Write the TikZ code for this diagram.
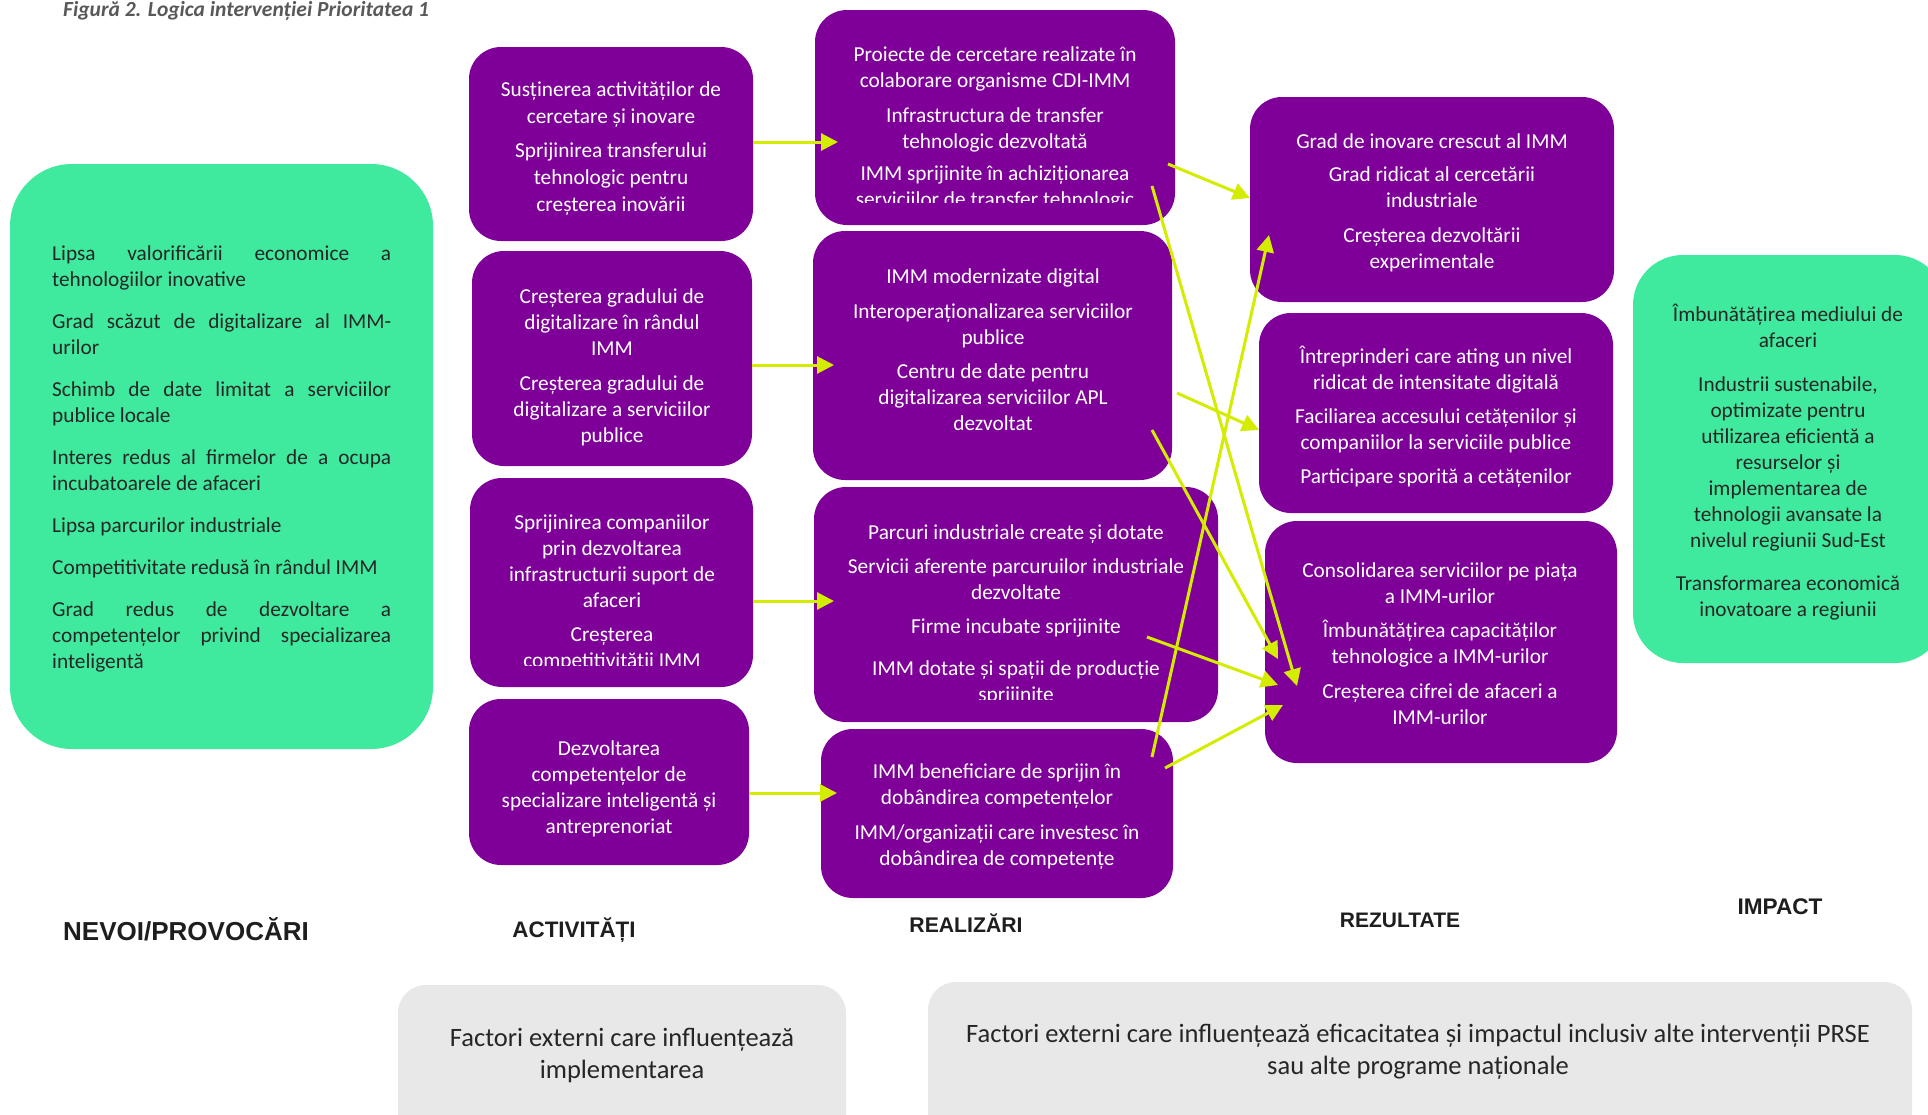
\documentclass[tikz,border=0pt]{standalone}
\usepackage{fontspec}
\setmainfont{Carlito}
\newfontfamily\headfont{Liberation Sans}
\usetikzlibrary{arrows.meta}
\definecolor{purp}{HTML}{7F0099}
\definecolor{grn}{HTML}{3FEA9E}
\definecolor{arrc}{HTML}{D4EC00}
\definecolor{lgrey}{HTML}{E8E8E8}
\definecolor{dtext}{HTML}{262626}
\definecolor{htext}{HTML}{1E1E1E}
\definecolor{ttl}{HTML}{595959}
\newcommand\bodyfs{\fontsize{21.3}{26}\selectfont}
\newcommand\extfs{\fontsize{26.5}{32.5}\selectfont}
\newcommand\fl{\rule{0pt}{20pt}}
\newcommand\jl[1]{\makebox[339pt][s]{#1}}
\begin{document}
\begin{tikzpicture}[x=1pt,y=-1pt,
 pbox/.style={fill=purp, rounded corners=32pt, inner sep=0pt, outer sep=0pt, anchor=north west},
 gbox/.style={fill=grn, inner sep=0pt, outer sep=0pt, anchor=north west},
 xbox/.style={fill=lgrey, rounded corners=28pt, inner sep=0pt, outer sep=0pt, anchor=north west},
 ptxt/.style={text=white, font=\bodyfs, align=center, inner sep=0pt, anchor=north},
 gtxt/.style={text=dtext, font=\bodyfs, align=center, inner sep=0pt, anchor=north},
 etxt/.style={text=dtext, font=\extfs, align=center, inner sep=0pt, anchor=north},
 head/.style={text=htext, inner sep=0pt, anchor=base},
 arr/.style={draw=arrc, line width=3pt, -{Triangle[length=17pt,width=17pt]}}]
\useasboundingbox (0,0) rectangle (1928,1114);
\clip (0,0) rectangle (1928,1114);
\fill[white] (0,0) rectangle (1928,1114);

% title
\node[anchor=base west, text=ttl, inner sep=0pt, font=\fontsize{21.5}{26}\selectfont\bfseries\itshape] (T) at (63,16) {Figură 2. Logica intervenției Prioritatea 1};

% boxes
\node[gbox, rounded corners=62pt, minimum width=423pt, minimum height=585pt] (N) at (10,164) {};
\node[pbox, minimum width=284pt, minimum height=194pt] (A1) at (469,47) {};
\node[pbox, minimum width=280pt, minimum height=215pt] (A2) at (472,251) {};
\node[pbox, minimum width=283pt, minimum height=209pt] (A3) at (470,478) {};
\node[pbox, minimum width=280pt, minimum height=166pt] (A4) at (469,699) {};
\node[pbox, minimum width=360pt, minimum height=215pt] (R1) at (815,10) {};
\node[pbox, minimum width=359pt, minimum height=249pt] (R2) at (813,231) {};
\node[pbox, minimum width=404pt, minimum height=235pt] (R3) at (814,487) {};
\node[pbox, minimum width=352pt, minimum height=169pt] (R4) at (821,729) {};
\node[pbox, minimum width=364pt, minimum height=205pt] (Z1) at (1250,97) {};
\node[pbox, minimum width=354pt, minimum height=200pt] (Z2) at (1259,313) {};
\node[pbox, minimum width=352pt, minimum height=242pt] (Z3) at (1265,521) {};
\node[gbox, rounded corners=50pt, minimum width=312pt, minimum height=408pt] (I) at (1633,255) {};
\node[xbox, minimum width=448pt, minimum height=160pt] (E1) at (398,985) {};
\node[xbox, minimum width=984pt, minimum height=160pt] (E2) at (928,982) {};

% needs text
\node[gtxt, align=left, anchor=north west] (Nt) at (52,240) {\fl\jl{Lipsa valorificării economice a}\\tehnologiilor inovative\\[16pt]\jl{Grad scăzut de digitalizare al IMM-}\\urilor\\[16pt]\jl{Schimb de date limitat a serviciilor}\\publice locale\\[16pt]\jl{Interes redus al firmelor de a ocupa}\\incubatoarele de afaceri\\[16pt]Lipsa parcurilor industriale\\[16pt]Competitivitate redusă în rândul IMM\\[16pt]\jl{Grad redus de dezvoltare a}\\\jl{competențelor privind specializarea}\\inteligentă};

% activities
\node[ptxt] (A1t) at (611,76) {\fl Susținerea activităților de\\[1pt]cercetare și inovare\\[8pt]Sprijinirea transferului\\[1pt]tehnologic pentru\\[1pt]creșterea inovării};
\node[ptxt] (A2t) at (612,283) {\fl Creșterea gradului de\\digitalizare în rândul\\IMM\\[9pt]Creșterea gradului de\\digitalizare a serviciilor\\publice};
\begin{scope}
\clip (470,478) rectangle (753,665);
\node[ptxt] (A3t) at (612,509) {\fl Sprijinirea companiilor\\prin dezvoltarea\\infrastructurii suport de\\afaceri\\[8pt]Creșterea\\competitivității IMM};
\end{scope}
\node[ptxt] (A4t) at (609,735) {\fl Dezvoltarea\\competențelor de\\specializare inteligentă și\\antreprenoriat};

% outputs
\begin{scope}
\clip (815,10) rectangle (1175,202);
\node[ptxt] (R1t) at (995,41) {\fl Proiecte de cercetare realizate în\\colaborare organisme CDI-IMM\\[9pt]Infrastructura de transfer\\tehnologic dezvoltată\\[6pt]IMM sprijinite în achiziționarea\\serviciilor de transfer tehnologic};
\end{scope}
\node[ptxt] (R2t) at (993,263) {\fl IMM modernizate digital\\[9pt]Interoperaționalizarea serviciilor\\publice\\[8pt]Centru de date pentru\\digitalizarea serviciilor APL\\dezvoltat};
\begin{scope}
\clip (814,487) rectangle (1218,699);
\node[ptxt] (R3t) at (1016,519) {\fl Parcuri industriale create și dotate\\[8pt]Servicii aferente parcuruilor industriale\\dezvoltate\\[8pt]Firme incubate sprijinite\\[16pt]IMM dotate și spații de producție\\sprijinite};
\end{scope}
\node[ptxt] (R4t) at (997,758) {\fl IMM beneficiare de sprijin în\\dobândirea competențelor\\[9pt]IMM/organizații care investesc în\\dobândirea de competențe};

% results
\node[ptxt] (Z1t) at (1432,128) {\fl Grad de inovare crescut al IMM\\[7pt]Grad ridicat al cercetării\\industriale\\[9pt]Creșterea dezvoltării\\experimentale};
\node[ptxt] (Z2t) at (1436,343) {\fl Întreprinderi care ating un nivel\\ridicat de intensitate digitală\\[8pt]Faciliarea accesului cetățenilor și\\companiilor la serviciile publice\\[8pt]Participare sporită a cetățenilor};
\node[ptxt] (Z3t) at (1440,557) {\fl Consolidarea serviciilor pe piața\\a IMM-urilor\\[8pt]Îmbunătățirea capacităților\\tehnologice a IMM-urilor\\[9pt]Creșterea cifrei de afaceri a\\IMM-urilor};

% impact
\node[gtxt] (It) at (1788,301) {\fl Îmbunătățirea mediului de\\afaceri\\[18pt]Industrii sustenabile,\\optimizate pentru\\utilizarea eficientă a\\resurselor și\\implementarea de\\tehnologii avansate la\\nivelul regiunii Sud-Est\\[17pt]Transformarea economică\\inovatoare a regiunii};

% external factors
\node[etxt] (E1t) at (622,1022) {\rule{0pt}{24pt}Factori externi care influențează\\implementarea};
\node[etxt] (E2t) at (1418,1018) {\rule{0pt}{24pt}Factori externi care influențează eficacitatea și impactul inclusiv alte intervenții PRSE\\sau alte programe naționale};

% headings
\node[head, font=\headfont\bfseries\fontsize{26}{30}\selectfont] (hN) at (186,940) {NEVOI/PROVOCĂRI};
\node[head, font=\headfont\bfseries\fontsize{22.4}{26}\selectfont] (hA) at (574,937) {ACTIVITĂȚI};
\node[head, font=\headfont\bfseries\fontsize{21.2}{26}\selectfont] (hR) at (966,932) {REALIZĂRI};
\node[head, font=\headfont\bfseries\fontsize{21}{26}\selectfont] (hZ) at (1400,927) {REZULTATE};
\node[head, font=\headfont\bfseries\fontsize{22.6}{26}\selectfont] (hI) at (1780,914) {IMPACT};

% connector end points
\coordinate (r1in) at (838,142);
\coordinate (r2in) at (834,365);
\coordinate (r3in) at (834,601);
\coordinate (r4in) at (837,793);
\coordinate (r1a) at (1168,164);
\coordinate (z1a) at (1250,198);
\coordinate (r1b) at (1152,186);
\coordinate (z3b) at (1297,686);
\coordinate (r4a) at (1152,757);
\coordinate (z1b) at (1269,235);
\coordinate (r2a) at (1177,393);
\coordinate (z2a) at (1259,430);
\coordinate (r2b) at (1152,430);
\coordinate (z3a) at (1278,659);
\coordinate (r3a) at (1147,637);
\coordinate (z3c) at (1278,685);
\coordinate (r4b) at (1165,768);
\coordinate (z3d) at (1283,705);

% connectors
\draw[arr] (A1.east |- r1in) -- (r1in);
\draw[arr] (A2.east |- r2in) -- (r2in);
\draw[arr] (A3.east |- r3in) -- (r3in);
\draw[arr] (A4.east |- r4in) -- (r4in);
\draw[arr] (r1a) -- (z1a);
\draw[arr] (r1b) -- (z3b);
\draw[arr] (r4a) -- (z1b);
\draw[arr] (r2a) -- (z2a);
\draw[arr] (r2b) -- (z3a);
\draw[arr] (r3a) -- (z3c);
\draw[arr] (r4b) -- (z3d);
\end{tikzpicture}
\end{document}
